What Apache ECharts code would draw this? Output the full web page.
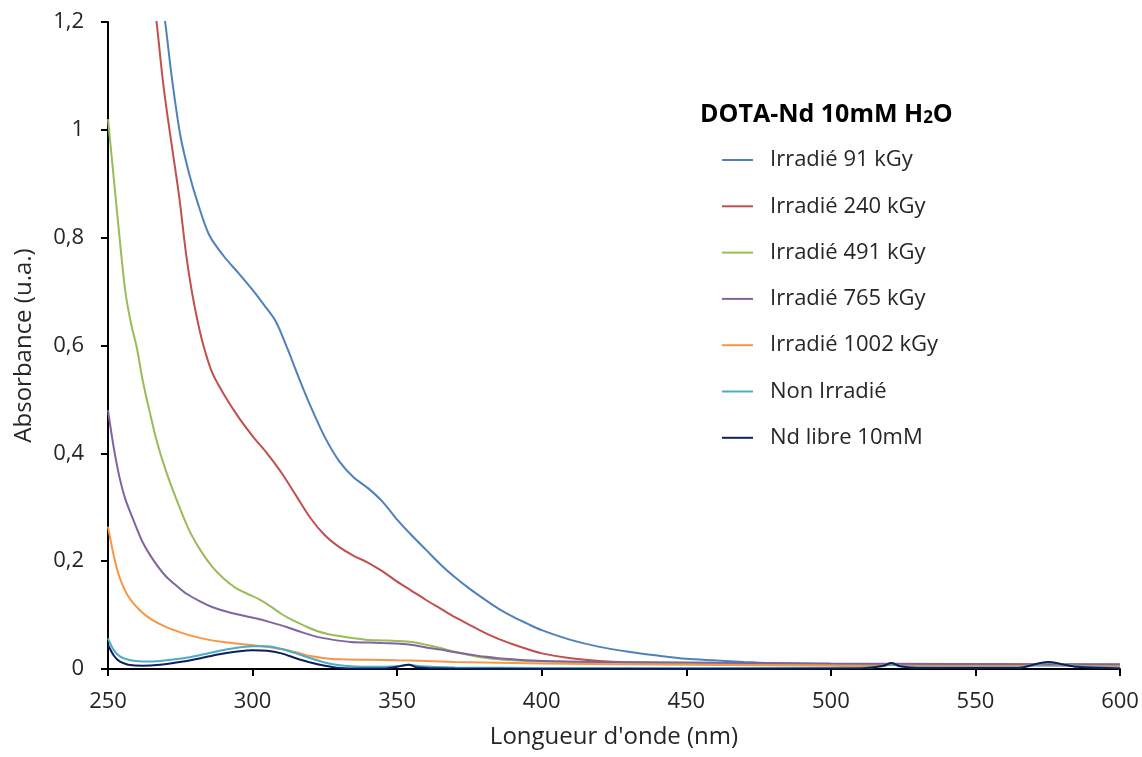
<!DOCTYPE html>
<html>
<head>
<meta charset="utf-8">
<script src="https://cdn.jsdelivr.net/npm/echarts@6/dist/echarts.min.js"></script>
<style>
html,body{margin:0;padding:0;background:#fff;}
#chart{width:1142px;height:757px;}
</style>
</head>
<body>
<div id="chart"></div>
<script>
// ---- Data (wavelength in nm, absorbance in u.a.) ----
const seriesNames = ['Irradié 91 kGy','Irradié 240 kGy','Irradié 491 kGy','Irradié 765 kGy','Irradié 1002 kGy','Non Irradié','Nd libre 10mM'];
const seriesColors = ['#4F81BD','#C0504D','#9BBB59','#8064A2','#F79646','#4BACC6','#0F1F5C'];

const nm91 = [268,270,272,275,278,281,285,290,295,300,304,308,312,316,320,325,330,335,340,345,350,355,360,365,370,375,380,385,390,395,400,410,420,430,440,450,460,470,480,500,520,550,600];
const abs91 = [1.27,1.19,1.10,0.99,0.92,0.865,0.805,0.766,0.735,0.703,0.675,0.645,0.595,0.54,0.488,0.43,0.385,0.355,0.335,0.31,0.277,0.248,0.221,0.194,0.170,0.149,0.130,0.112,0.097,0.084,0.072,0.054,0.041,0.032,0.025,0.019,0.016,0.013,0.011,0.009,0.008,0.007,0.006];

const nm240 = [265,267,269,271,274,275,277,279,281,283,286,290,295,300,305,310,315,320,325,330,335,340,345,350,355,360,365,370,375,380,385,390,395,400,410,420,440,460,500,550,600];
const abs240 = [1.28,1.19,1.09,1.01,0.90,0.86,0.77,0.70,0.645,0.60,0.55,0.51,0.468,0.432,0.40,0.364,0.322,0.280,0.248,0.226,0.21,0.197,0.181,0.162,0.145,0.128,0.112,0.096,0.082,0.068,0.056,0.046,0.037,0.029,0.020,0.015,0.011,0.010,0.009,0.008,0.007];

const nm491 = [250,252,254,256,258,260,262,264.5,267,270,274,278,282,286,290,294,298,302,306,310,314,318,322,326,330,335,340,345,350,355,360,365,370,375,380,385,390,400,420,450,500,600];
const abs491 = [1.02,0.91,0.80,0.70,0.64,0.595,0.535,0.475,0.42,0.368,0.31,0.258,0.22,0.19,0.168,0.151,0.14,0.13,0.117,0.102,0.09,0.08,0.071,0.065,0.061,0.057,0.054,0.053,0.052,0.05,0.045,0.039,0.032,0.026,0.021,0.018,0.016,0.014,0.012,0.011,0.009,0.008];

const nm765 = [250,252,254,256,258.8,262,265.7,270,274,277,282,286,290,295,301,306,311.8,316,322,328,334,340,345,351,356,360,365,370,375,380,385,390,400,420,450,500,600];
const abs765 = [0.48,0.41,0.355,0.315,0.276,0.235,0.202,0.172,0.153,0.140,0.125,0.115,0.108,0.101,0.094,0.087,0.078,0.07,0.06,0.054,0.05,0.049,0.048,0.047,0.044,0.04,0.036,0.031,0.027,0.023,0.02,0.018,0.015,0.013,0.012,0.010,0.009];

const nm1002 = [250,252,254,257,261,265,270,275,280,285,290,295,300,305,310,315,320,325,330,340,350,360,370,380,400,450,500,515,518,521,524,530,565,570,575,580,585,600];
const abs1002 = [0.264,0.21,0.17,0.135,0.109,0.092,0.078,0.068,0.06,0.054,0.05,0.047,0.044,0.041,0.037,0.031,0.024,0.02,0.018,0.017,0.016,0.015,0.013,0.012,0.010,0.008,0.006,0.005,0.007,0.010,0.006,0.005,0.005,0.008,0.012,0.009,0.006,0.004];

const nmNon = [250,252,254,257,262,268,276,282,288,294,300,305,310,315,320,325,330,340,350,354,358,370,400,510,518,521,524,530,565,570,575,580,585,600];
const absNon = [0.057,0.035,0.024,0.017,0.014,0.015,0.02,0.026,0.033,0.039,0.042,0.042,0.037,0.029,0.02,0.012,0.007,0.004,0.005,0.008,0.005,0.003,0.002,0.002,0.005,0.009,0.005,0.003,0.003,0.007,0.012,0.009,0.005,0.002];

const nmNd = [250,252,254,257,262,268,276,282,288,294,300,305,310,315,320,325,330,340,345,350,354,357,370,400,510,518,521,524,530,565,570,575,580,585,600];
const absNd = [0.045,0.025,0.014,0.008,0.006,0.008,0.014,0.02,0.027,0.032,0.035,0.034,0.029,0.02,0.012,0.006,0.002,0.001,0.001,0.004,0.008,0.003,0.001,0.0,0.001,0.006,0.011,0.005,0.002,0.002,0.008,0.013,0.009,0.004,0.001];

const xTicks = {min:250, max:600, interval:50};
const yTicks = {min:0, max:1.2, interval:0.2};

const allNm = [nm91,nm240,nm491,nm765,nm1002,nmNon,nmNd];
const allAbs = [abs91,abs240,abs491,abs765,abs1002,absNon,absNd];

const FONT = '"Open Sans", sans-serif';
const TXT = '#262626';

const chart = echarts.init(document.getElementById('chart'), null, {renderer:'canvas'});
const series = seriesNames.map((name,i)=>({
  name,
  type:'line',
  data: allNm[i].map((x,k)=>[x, allAbs[i][k]]),
  showSymbol:false,
  smooth:0.3,
  clip:true,
  lineStyle:{width:2, color:seriesColors[i]},
  itemStyle:{color:seriesColors[i]},
  z: 10 + i
}));

chart.setOption({
  animation:false,
  backgroundColor:'#fff',
  title:{
    text:'{a|DOTA-Nd 10mM H}{s|2}{a|O}',
    left:695, top:95,
    textStyle:{
      rich:{
        a:{fontFamily:FONT, fontSize:25, fontWeight:'bold', color:'#000', verticalAlign:'bottom'},
        s:{fontFamily:FONT, fontSize:17, fontWeight:'bold', color:'#000', padding:[10,0,0,0], verticalAlign:'bottom'}
      }
    }
  },
  legend:{
    orient:'vertical',
    left:717, top:142,
    itemWidth:31, itemHeight:2,
    itemGap:20.3,
    icon:'rect',
    textStyle:{fontFamily:FONT, fontSize:22, color:TXT, lineHeight:26, padding:[0,0,0,12]},
    data:seriesNames
  },
  grid:{left:108, right:22, top:22, bottom:88, containLabel:false},
  xAxis:{
    type:'value',
    min:xTicks.min, max:xTicks.max, interval:xTicks.interval,
    name:"Longueur d'onde (nm)",
    nameLocation:'middle', nameGap:56,
    nameTextStyle:{fontFamily:FONT, fontSize:24, color:TXT},
    axisLine:{show:true, onZero:false, lineStyle:{color:'#000', width:2}},
    axisTick:{show:true, length:7, lineStyle:{color:'#000', width:2}},
    axisLabel:{fontFamily:FONT, fontSize:22, color:TXT, margin:22},
    splitLine:{show:false}
  },
  yAxis:{
    type:'value',
    min:yTicks.min, max:yTicks.max, interval:yTicks.interval,
    name:'Absorbance (u.a.)',
    nameLocation:'middle', nameGap:72,
    nameTextStyle:{fontFamily:FONT, fontSize:24, color:TXT},
    axisLine:{show:true, lineStyle:{color:'#000', width:2}},
    axisTick:{show:true, length:7, lineStyle:{color:'#000', width:2}},
    axisLabel:{fontFamily:FONT, fontSize:22, color:TXT, margin:24,
      formatter:v=>String(Math.round(v*10)/10).replace('.',',')},
    splitLine:{show:false}
  },
  series
});
</script>
</body>
</html>
